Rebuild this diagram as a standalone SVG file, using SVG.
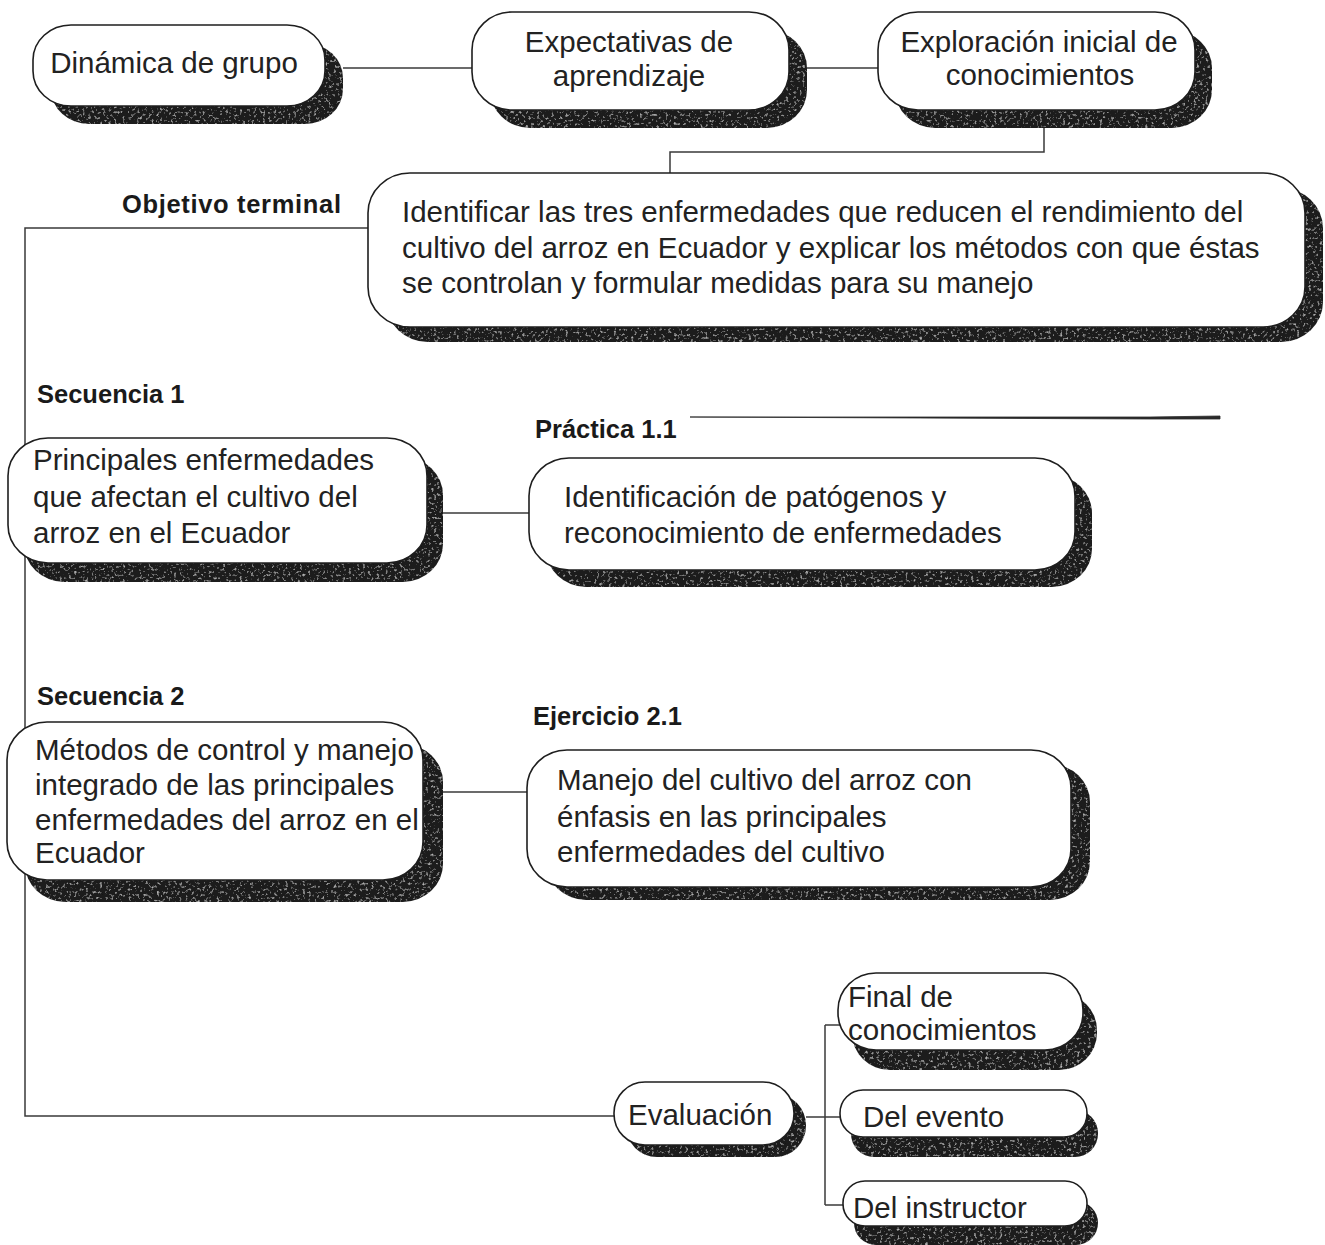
<svg xmlns="http://www.w3.org/2000/svg" width="1325" height="1245" viewBox="0 0 1325 1245">
<defs>
<filter id="grain" x="0" y="0" width="100%" height="100%">
<feTurbulence type="fractalNoise" baseFrequency="0.35" numOctaves="2" seed="7" result="n"/>
<feColorMatrix in="n" type="matrix" values="0 0 0 0 0.5  0 0 0 0 0.5  0 0 0 0 0.5  0 0 0 3 -1.75" result="spk"/>
<feComposite in="spk" in2="SourceGraphic" operator="in" result="s2"/>
<feMerge><feMergeNode in="SourceGraphic"/><feMergeNode in="s2"/></feMerge>
</filter>
<style>
.bg{fill:#ffffff}
.box{fill:#ffffff;stroke:#1e1e1e;stroke-width:1.6}
.sh{fill:#1f1f1f;filter:url(#grain)}
.con{fill:none;stroke:#3a3a3a;stroke-width:1.5}
.t{font-family:"Liberation Sans",Arial,Helvetica,sans-serif;font-size:29.5px;fill:#222222}
.c{text-anchor:middle}
.lbl{font-family:"Liberation Sans",Arial,Helvetica,sans-serif;font-size:25.5px;font-weight:bold;fill:#1a1a1a}
</style>
</defs>
<rect class="bg" x="0" y="0" width="1325" height="1245"/>

<g id="connectors">
<path class="con" d="M343 68 H472"/>
<path class="con" d="M807 68 H878"/>
<path class="con" d="M1044 128 V152 H670 V173"/>
<path class="con" d="M368 228 H25 V1116 H614"/>
<path class="con" d="M443 513 H529"/>
<path class="con" d="M443 792 H527"/>
<path class="con" d="M806 1117 H825"/>
<path class="con" d="M825 1025 V1205"/>
<path class="con" d="M825 1025 H840"/>
<path class="con" d="M825 1117 H842"/>
<path class="con" d="M825 1205 H845"/>
</g>

<g id="rule-line">
<path d="M690 417 H1150 L1220 416 L1220 419 L1150 419 Z" fill="#2a2a2a" stroke="#2a2a2a" stroke-width="0.8"/>
</g>

<g id="n-dinamica">
<rect class="sh" x="51" y="43" width="292" height="81" rx="38" ry="35"/>
<rect class="box" x="33" y="25" width="292" height="81" rx="38" ry="35"/>
<text class="t c" x="174" y="73">Dinámica de grupo</text>
</g>

<g id="n-expectativas">
<rect class="sh" x="490" y="30" width="317" height="98" rx="40" ry="38"/>
<rect class="box" x="472" y="12" width="317" height="98" rx="40" ry="38"/>
<text class="t c" x="629" y="52">Expectativas de</text>
<text class="t c" x="629" y="86">aprendizaje</text>
</g>

<g id="n-exploracion">
<rect class="sh" x="895" y="30" width="317" height="98" rx="40" ry="38"/>
<rect class="box" x="878" y="12" width="317" height="98" rx="40" ry="38"/>
<text class="t c" x="1039" y="52">Exploración inicial de</text>
<text class="t c" x="1040" y="85">conocimientos</text>
</g>

<g id="n-objetivo">
<text class="lbl" x="122" y="213" textLength="219" lengthAdjust="spacing">Objetivo terminal</text>
<rect class="sh" x="386" y="188" width="937" height="154" rx="42" ry="40"/>
<rect class="box" x="368" y="173" width="937" height="154" rx="42" ry="40"/>
<text class="t" x="402" y="222">Identificar las tres enfermedades que reducen el rendimiento del</text>
<text class="t" x="402" y="258">cultivo del arroz en Ecuador y explicar los métodos con que éstas</text>
<text class="t" x="402" y="293">se controlan y formular medidas para su manejo</text>
</g>

<g id="n-secuencia1">
<text class="lbl" x="37" y="403">Secuencia 1</text>
<rect class="sh" x="24" y="457" width="419" height="125" rx="40" ry="38"/>
<rect class="box" x="8" y="438" width="419" height="125" rx="40" ry="38"/>
<text class="t" x="33" y="470">Principales enfermedades</text>
<text class="t" x="33" y="507">que afectan el cultivo del</text>
<text class="t" x="33" y="543">arroz en el Ecuador</text>
</g>

<g id="n-practica">
<text class="lbl" x="535" y="438">Práctica 1.1</text>
<rect class="sh" x="546" y="475" width="546" height="112" rx="40" ry="38"/>
<rect class="box" x="529" y="458" width="546" height="112" rx="40" ry="38"/>
<text class="t" x="564" y="507">Identificación de patógenos y</text>
<text class="t" x="564" y="543">reconocimiento de enfermedades</text>
</g>

<g id="n-secuencia2">
<text class="lbl" x="37" y="705">Secuencia 2</text>
<rect class="sh" x="25" y="744" width="418" height="158" rx="40" ry="38"/>
<rect class="box" x="7" y="722" width="416" height="158" rx="40" ry="38"/>
<text class="t" x="35" y="760">Métodos de control y manejo</text>
<text class="t" x="35" y="795">integrado de las principales</text>
<text class="t" x="35" y="830">enfermedades del arroz en el</text>
<text class="t" x="35" y="863">Ecuador</text>
</g>

<g id="n-ejercicio">
<text class="lbl" x="533" y="725">Ejercicio 2.1</text>
<rect class="sh" x="546" y="764" width="544" height="136" rx="40" ry="38"/>
<rect class="box" x="527" y="750" width="544" height="137" rx="40" ry="38"/>
<text class="t" x="557" y="790">Manejo del cultivo del arroz con</text>
<text class="t" x="557" y="827">énfasis en las principales</text>
<text class="t" x="557" y="862">enfermedades del cultivo</text>
</g>

<g id="n-evaluacion">
<rect class="sh" x="626" y="1094" width="180" height="63" rx="31" ry="31"/>
<rect class="box" x="614" y="1082" width="180" height="63" rx="31" ry="31"/>
<text class="t" x="628" y="1125">Evaluación</text>
</g>

<g id="n-final">
<rect class="sh" x="852" y="993" width="245" height="77" rx="38" ry="37"/>
<rect class="box" x="838" y="973" width="245" height="77" rx="38" ry="37"/>
<text class="t" x="848" y="1007">Final de</text>
<text class="t" x="848" y="1040">conocimientos</text>
</g>

<g id="n-evento">
<rect class="sh" x="851" y="1110" width="247" height="47" rx="23" ry="23"/>
<rect class="box" x="840" y="1090" width="247" height="47" rx="23" ry="23"/>
<text class="t" x="863" y="1127">Del evento</text>
</g>

<g id="n-instructor">
<rect class="sh" x="854" y="1201" width="244" height="44" rx="22" ry="22"/>
<rect class="box" x="843" y="1181" width="244" height="45" rx="22" ry="22"/>
<text class="t" x="853" y="1218">Del instructor</text>
</g>
</svg>
